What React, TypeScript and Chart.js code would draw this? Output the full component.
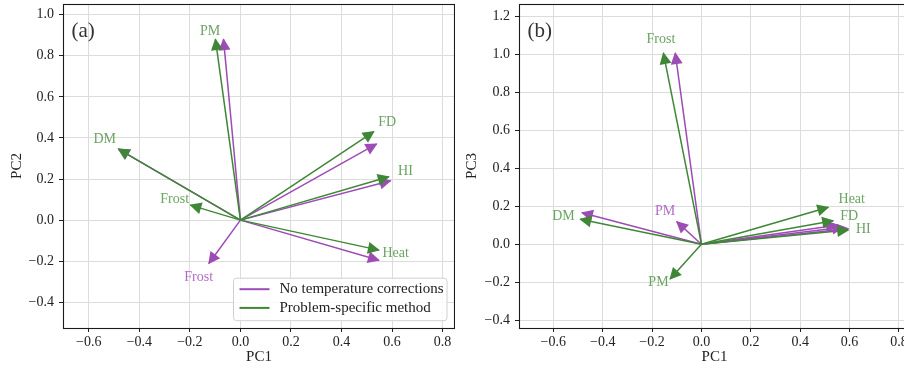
import React, { useEffect, useRef } from 'react';
import { Chart, registerables } from 'chart.js';
Chart.register(...registerables);

// ---------- data ----------
const variables = ['PM', 'FD', 'HI', 'Heat', 'Frost', 'DM'];

// Panel (a): PC1 vs PC2 loadings
const noCorrA_PC1 = [-0.067, 0.539, 0.594, 0.548, -0.125, -0.482];
const noCorrA_PC2 = [0.881, 0.371, 0.192, -0.195, -0.211, 0.346];
const psmA_PC1 = [-0.099, 0.528, 0.587, 0.548, -0.198, -0.483];
const psmA_PC2 = [0.881, 0.431, 0.211, -0.146, 0.073, 0.346];

// Panel (b): PC1 vs PC3 loadings
const noCorrB_PC1 = [-0.1, 0.55, 0.595, 0.575, -0.106, -0.484];
const noCorrB_PC3 = [0.119, 0.1, 0.082, 0.09, 1.008, 0.166];
const psmB_PC1 = [-0.127, 0.534, 0.595, 0.514, -0.154, -0.491];
const psmB_PC3 = [-0.184, 0.124, 0.075, 0.195, 1.008, 0.132];

// Variable label anchors
const psmLabelA_PC1 = [-0.12, 0.581, 0.653, 0.614, -0.26, -0.537];
const psmLabelA_PC2 = [0.92, 0.475, 0.239, -0.163, 0.101, 0.394];
const noCorrLabelA_vars = ['Frost'];
const noCorrLabelA_PC1 = [-0.165];
const noCorrLabelA_PC2 = [-0.277];

const psmLabelB_PC1 = [-0.174, 0.599, 0.656, 0.609, -0.164, -0.559];
const psmLabelB_PC3 = [-0.203, 0.145, 0.08, 0.237, 1.082, 0.145];
const noCorrLabelB_vars = ['PM'];
const noCorrLabelB_PC1 = [-0.147];
const noCorrLabelB_PC3 = [0.175];

// Axis ticks
const xTicks = [-0.6, -0.4, -0.2, 0.0, 0.2, 0.4, 0.6, 0.8];
const yTicksA = [-0.4, -0.2, 0.0, 0.2, 0.4, 0.6, 0.8, 1.0];
const yTicksB = [-0.4, -0.2, 0.0, 0.2, 0.4, 0.6, 0.8, 1.0, 1.2];

const seriesNames = ['No temperature corrections', 'Problem-specific method'];

// ---------- styles ----------
const FONT = "'Liberation Serif', 'Times New Roman', serif";
const PURPLE = '#9c4cb4';
const GREEN = '#3f8736';
const PURPLE_TEXT = '#b26cc8';
const GREEN_TEXT = '#6ba562';
const TEXT = '#222222';
const GRID = '#dcdcdc';

Chart.defaults.font.family = FONT;

type Lbl = { text: string; x: number; y: number; color: string };
type Spec = {
  left: number; width: number; yAxisWidth: number; padRight: number;
  xMin: number; xMax: number; yMin: number; yMax: number;
  yTicks: number[]; xTitle: string; yTitle: string; letter: string;
  nX: number[]; nY: number[]; pX: number[]; pY: number[];
  labels: Lbl[]; legend: boolean;
};

const fmt = (v: number) => {
  const s = Math.abs(v).toFixed(1);
  return v < -1e-9 ? '\u2212' + s : s;
};

function Panel({ spec }: { spec: Spec }) {
  const ref = useRef<HTMLCanvasElement>(null);
  useEffect(() => {
    const datasets: any[] = [];
    variables.forEach((v, i) => {
      datasets.push({
        label: seriesNames[0] + ' ' + v,
        data: [{ x: 0, y: 0 }, { x: spec.nX[i], y: spec.nY[i] }],
        showLine: true, borderColor: PURPLE, backgroundColor: PURPLE,
        borderWidth: 1.5, pointRadius: 0, pointHoverRadius: 0, order: 1, series: 0,
      });
    });
    variables.forEach((v, i) => {
      datasets.push({
        label: seriesNames[1] + ' ' + v,
        data: [{ x: 0, y: 0 }, { x: spec.pX[i], y: spec.pY[i] }],
        showLine: true, borderColor: GREEN, backgroundColor: GREEN,
        borderWidth: 1.5, pointRadius: 0, pointHoverRadius: 0, order: 0, series: 1,
      });
    });

    const arrowPlugin = {
      id: 'arrowsAndDecor',
      afterDatasetsDraw(chart: any) {
        const { ctx, chartArea: ca, scales } = chart;
        ctx.save();
        ctx.beginPath();
        ctx.rect(ca.left, ca.top, ca.right - ca.left, ca.bottom - ca.top);
        ctx.clip();
        // arrow heads: purple first, then green on top
        [0, 1].forEach((series) => {
          chart.data.datasets.forEach((ds: any, i: number) => {
            if (ds.series !== series) return;
            const meta = chart.getDatasetMeta(i);
            const p0 = meta.data[0], p1 = meta.data[1];
            const dx = p1.x - p0.x, dy = p1.y - p0.y;
            const len = Math.hypot(dx, dy) || 1;
            const ux = dx / len, uy = dy / len;
            const nx = -uy, ny = ux;
            const L = 12, W = 6;
            const tx = p1.x + ux * 1, ty = p1.y + uy * 1;
            const bx = tx - ux * L, by = ty - uy * L;
            ctx.beginPath();
            ctx.moveTo(tx, ty);
            ctx.lineTo(bx + nx * W, by + ny * W);
            ctx.lineTo(bx - nx * W, by - ny * W);
            ctx.closePath();
            ctx.fillStyle = ds.borderColor;
            ctx.fill();
          });
        });
        // variable labels
        ctx.font = `14px ${FONT}`;
        ctx.textAlign = 'center';
        ctx.textBaseline = 'middle';
        spec.labels.forEach((l) => {
          ctx.fillStyle = l.color;
          ctx.fillText(l.text, scales.x.getPixelForValue(l.x), scales.y.getPixelForValue(l.y));
        });
        ctx.restore();

        // panel letter
        ctx.save();
        ctx.font = `21px ${FONT}`;
        ctx.fillStyle = '#333333';
        ctx.textAlign = 'left';
        ctx.textBaseline = 'middle';
        ctx.fillText(spec.letter, ca.left + 8.5, ca.top + 27.5);
        ctx.restore();

        // legend
        if (spec.legend) {
          ctx.save();
          const w = 213.5, h = 42.5;
          const lx = ca.right - 8 - w, ly = ca.bottom - 7.3 - h;
          ctx.beginPath();
          const r = 3;
          ctx.moveTo(lx + r, ly);
          ctx.arcTo(lx + w, ly, lx + w, ly + h, r);
          ctx.arcTo(lx + w, ly + h, lx, ly + h, r);
          ctx.arcTo(lx, ly + h, lx, ly, r);
          ctx.arcTo(lx, ly, lx + w, ly, r);
          ctx.closePath();
          ctx.fillStyle = 'rgba(255,255,255,0.85)';
          ctx.fill();
          ctx.strokeStyle = '#d0d0d0';
          ctx.lineWidth = 1;
          ctx.stroke();
          const colors = [PURPLE, GREEN];
          ctx.font = `15px ${FONT}`;
          ctx.textAlign = 'left';
          ctx.textBaseline = 'middle';
          seriesNames.forEach((name, k) => {
            const yy = ly + 11 + k * 18.7;
            ctx.strokeStyle = colors[k];
            ctx.lineWidth = 2;
            ctx.beginPath();
            ctx.moveTo(lx + 6, yy);
            ctx.lineTo(lx + 36, yy);
            ctx.stroke();
            ctx.fillStyle = TEXT;
            ctx.fillText(name, lx + 46, yy);
          });
          ctx.restore();
        }

        // frame
        ctx.save();
        ctx.strokeStyle = '#1a1a1a';
        ctx.lineWidth = 1.1;
        ctx.strokeRect(Math.round(ca.left) + 0.5, Math.round(ca.top) + 0.5,
          Math.round(ca.right) - Math.round(ca.left) - 1, Math.round(ca.bottom) - Math.round(ca.top));
        ctx.restore();
      },
    };

    const zeroPad = (s: any) => { s.paddingTop = 0; s.paddingBottom = 0; s.paddingLeft = 0; s.paddingRight = 0; };

    const chart = new Chart(ref.current!, {
      type: 'scatter',
      data: { datasets },
      options: {
        animation: false,
        responsive: false,
        devicePixelRatio: 1,
        events: [],
        layout: { padding: { top: 4, right: spec.padRight, bottom: 0, left: 0 } },
        plugins: { legend: { display: false }, tooltip: { enabled: false } },
        scales: {
          x: {
            type: 'linear', min: spec.xMin, max: spec.xMax,
            afterBuildTicks: (ax: any) => { ax.ticks = xTicks.map((v) => ({ value: v })); },
            afterFit: (s: any) => { s.height = 41; zeroPad(s); },
            ticks: { callback: (v: any) => fmt(Number(v)), font: { size: 14, family: FONT }, color: TEXT, padding: 2, maxRotation: 0, autoSkip: false },
            grid: { color: GRID, tickColor: TEXT, tickLength: 4, lineWidth: 1 },
            border: { display: false },
            title: { display: true, text: spec.xTitle, font: { size: 15, family: FONT }, color: TEXT, padding: { top: 0, bottom: 2.6 } },
          },
          y: {
            type: 'linear', min: spec.yMin, max: spec.yMax,
            afterBuildTicks: (ax: any) => { ax.ticks = spec.yTicks.map((v) => ({ value: v })); },
            afterFit: (s: any) => { s.width = spec.yAxisWidth; zeroPad(s); },
            ticks: { callback: (v: any) => fmt(Number(v)), font: { size: 14, family: FONT }, color: TEXT, padding: 5, autoSkip: false },
            grid: { color: GRID, tickColor: TEXT, tickLength: 4, lineWidth: 1 },
            border: { display: false },
            title: { display: true, text: spec.yTitle, font: { size: 15, family: FONT }, color: TEXT, padding: { top: 8.4, bottom: 0 } },
          },
        },
      } as any,
      plugins: [arrowPlugin],
    });
    return () => chart.destroy();
  }, []);
  return (
    <canvas
      ref={ref}
      width={spec.width}
      height={369}
      style={{ position: 'absolute', left: spec.left, top: 0, width: spec.width, height: 369 }}
    />
  );
}

const specA: Spec = {
  left: 0, width: 455, yAxisWidth: 63, padRight: 0,
  xMin: -0.702, xMax: 0.849, yMin: -0.525, yMax: 1.052,
  yTicks: yTicksA, xTitle: 'PC1', yTitle: 'PC2', letter: '(a)',
  nX: noCorrA_PC1, nY: noCorrA_PC2, pX: psmA_PC1, pY: psmA_PC2,
  labels: [
    ...variables.map((v, i) => ({ text: v, x: psmLabelA_PC1[i], y: psmLabelA_PC2[i], color: GREEN_TEXT })),
    ...noCorrLabelA_vars.map((v, i) => ({ text: v, x: noCorrLabelA_PC1[i], y: noCorrLabelA_PC2[i], color: PURPLE_TEXT })),
  ],
  legend: true,
};

const specB: Spec = {
  left: 455, width: 470, yAxisWidth: 64, padRight: 15,
  xMin: -0.739, xMax: 0.845, yMin: -0.442, yMax: 1.267,
  yTicks: yTicksB, xTitle: 'PC1', yTitle: 'PC3', letter: '(b)',
  nX: noCorrB_PC1, nY: noCorrB_PC3, pX: psmB_PC1, pY: psmB_PC3,
  labels: [
    ...variables.map((v, i) => ({ text: v, x: psmLabelB_PC1[i], y: psmLabelB_PC3[i], color: GREEN_TEXT })),
    ...noCorrLabelB_vars.map((v, i) => ({ text: v, x: noCorrLabelB_PC1[i], y: noCorrLabelB_PC3[i], color: PURPLE_TEXT })),
  ],
  legend: false,
};

export default function App() {
  return (
    <div style={{ position: 'absolute', left: 0, top: 0, width: 904, height: 369, overflow: 'hidden', background: '#ffffff' }}>
      <Panel spec={specA} />
      <Panel spec={specB} />
    </div>
  );
}
